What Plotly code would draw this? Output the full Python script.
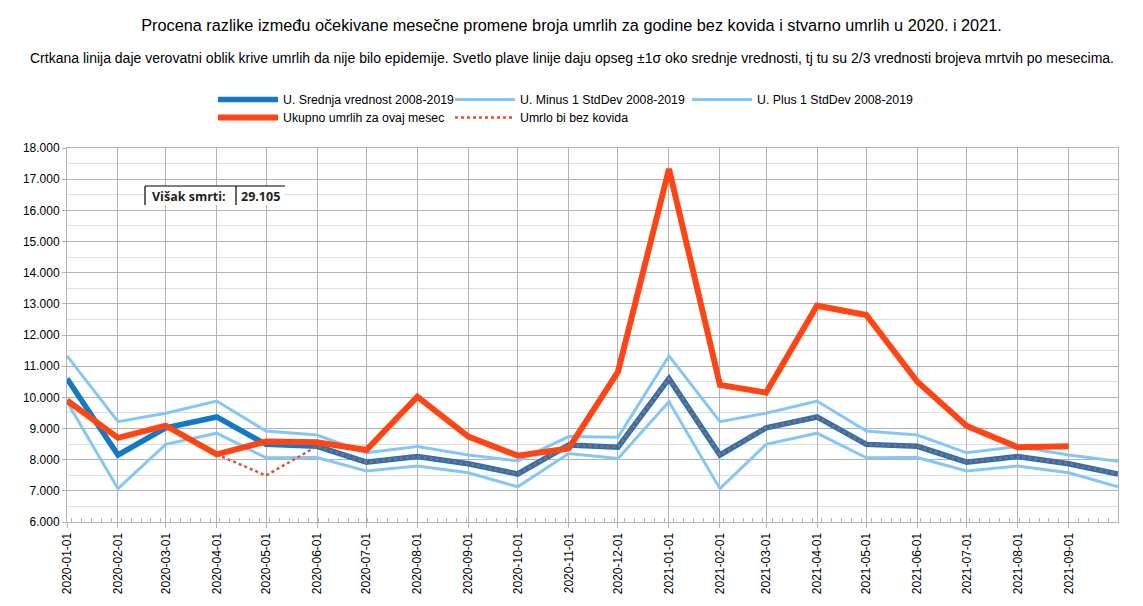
import plotly.graph_objects as go

# ---- data ----
months = ["2020-01-01", "2020-02-01", "2020-03-01", "2020-04-01", "2020-05-01", "2020-06-01",
          "2020-07-01", "2020-08-01", "2020-09-01", "2020-10-01", "2020-11-01", "2020-12-01",
          "2021-01-01", "2021-02-01", "2021-03-01", "2021-04-01", "2021-05-01", "2021-06-01",
          "2021-07-01", "2021-08-01", "2021-09-01", "2021-10-01"]

mean_2008_2019 = [10600, 8150, 9020, 9370, 8490, 8430, 7920, 8100, 7870, 7540, 8470, 8400,
                  10600, 8150, 9020, 9370, 8490, 8430, 7920, 8100, 7870, 7540]
minus_1sd = [9860, 7070, 8490, 8850, 8060, 8070, 7640, 7800, 7580, 7130, 8200, 8040,
             9860, 7070, 8490, 8850, 8060, 8070, 7640, 7800, 7580, 7130]
plus_1sd = [11330, 9220, 9490, 9880, 8920, 8790, 8220, 8420, 8150, 7960, 8740, 8720,
            11330, 9220, 9490, 9880, 8920, 8790, 8220, 8420, 8150, 7950]
actual = [9900, 8700, 9090, 8170, 8580, 8560, 8310, 10020, 8740, 8130, 8360, 10820,
          17330, 10400, 10150, 12940, 12640, 10500, 9080, 8400, 8430, None]
without_covid = [None, None, None, 8170, 7490, 8430, 7920, 8100, 7870, 7540, 8470, 8400,
                 10600, 8150, 9020, 9370, 8490, 8430, 7920, 8100, 7870, 7540]

tick_dates = months[:-1]

names = ["U. Srednja vrednost 2008-2019", "U. Minus 1 StdDev 2008-2019", "U. Plus 1 StdDev 2008-2019",
         "Ukupno umrlih za ovaj mesec", "Umrlo bi bez kovida"]

title_text = ("Procena razlike između očekivane mesečne promene broja umrlih za godine bez kovida "
              "i stvarno umrlih u 2020. i 2021.")
subtitle_text = ("Crtkana linija daje verovatni oblik krive umrlih da nije bilo epidemije. Svetlo plave linije "
                 "daju opseg ±1σ oko srednje vrednosti, tj tu su 2/3 vrednosti brojeva mrtvih po mesecima.")
excess_label = "Višak smrti:"
excess_value = "29.105"

# ---- styles ----
C_MEAN = "#1379c4"
C_SD = "#85c6f5"
C_ACT = "#ff4513"
C_DOT = "#e0522f"
FONT = "Liberation Sans, Arial, sans-serif"

W, H = 1143, 606
L, R, T, B = 67, 25, 148, 84
PW, PH = W - L - R, H - T - B


def px_x(x):
    return (x - L) / PW


def px_y(y):
    return (H - B - y) / PH


fig = go.Figure()
fig.add_trace(go.Scatter(x=months, y=mean_2008_2019, name=names[0], mode="lines",
                         line=dict(color=C_MEAN, width=5.5), legend="legend"))
fig.add_trace(go.Scatter(x=months, y=minus_1sd, name=names[1], mode="lines",
                         line=dict(color=C_SD, width=3), legend="legend"))
fig.add_trace(go.Scatter(x=months, y=plus_1sd, name=names[2], mode="lines",
                         line=dict(color=C_SD, width=3), legend="legend"))
fig.add_trace(go.Scatter(x=months, y=actual, name=names[3], mode="lines",
                         line=dict(color=C_ACT, width=6), legend="legend2"))
fig.add_trace(go.Scatter(x=months, y=without_covid, name=names[4], mode="lines",
                         line=dict(color=C_DOT, width=2.5, dash="dot"), legend="legend2"))

grid_major = "#b3b3b3"
grid_minor = "#dedede"

leg_common = dict(orientation="h", xanchor="left", yanchor="top",
                  entrywidth=162, entrywidthmode="pixels", font=dict(family=FONT, size=12.3),
                  bgcolor="rgba(0,0,0,0)", tracegroupgap=0, itemwidth=60)

fig.update_layout(
    width=W, height=H, autosize=False,
    margin=dict(l=L, r=R, t=T, b=B, pad=0, autoexpand=False),
    paper_bgcolor="white", plot_bgcolor="white",
    separators=",.",
    font=dict(family=FONT, size=12, color="#000000"),
    title=dict(text=title_text, x=0.5, xanchor="center", xref="container",
               y=1 - 25 / H, yref="container", yanchor="middle",
               font=dict(family=FONT, size=16.3, color="#000000")),
    legend=dict(x=px_x(213), y=px_y(85), **leg_common),
    legend2=dict(x=px_x(213), y=px_y(103), **leg_common),
    showlegend=True,
)

fig.update_xaxes(
    type="date", range=[months[0], months[-1]],
    tickmode="array", tickvals=tick_dates, ticktext=tick_dates,
    tickangle=-90, tickfont=dict(family=FONT, size=12, color="#000000"),
    showgrid=True, gridcolor=grid_major, gridwidth=1,
    showline=True, linecolor=grid_major, linewidth=1, mirror=True,
    ticks="outside", ticklen=5, tickcolor=grid_major,
    minor=dict(ticks="inside", ticklen=4, tickcolor=grid_major, dtick=6 * 86400000,
               showgrid=False),
    zeroline=False,
)
fig.update_yaxes(
    range=[6000, 18000], dtick=1000, tick0=6000, tickformat=",d",
    tickfont=dict(family=FONT, size=12, color="#000000"),
    showgrid=True, gridcolor=grid_major, gridwidth=1,
    minor=dict(dtick=500, showgrid=True, gridcolor=grid_minor, gridwidth=1),
    showline=True, linecolor=grid_major, linewidth=1, mirror=True,
    ticks="outside", ticklen=4, tickcolor=grid_major,
    zeroline=False,
)

# subtitle
fig.add_annotation(text=subtitle_text, xref="paper", yref="paper",
                   x=px_x(W / 2), y=px_y(58), xanchor="center", yanchor="middle",
                   showarrow=False, font=dict(family=FONT, size=14, color="#000000"))

# excess deaths box
box_top, box_bot = 186, 205
fig.add_shape(type="rect", xref="paper", yref="paper",
              x0=px_x(145), x1=px_x(285), y0=px_y(box_bot), y1=px_y(box_top),
              line=dict(width=0), fillcolor="white", layer="above")
for (x0, y0, x1, y1) in [(145, box_top, 285, box_top), (145, box_top, 145, box_bot),
                         (236, box_top, 236, box_bot)]:
    fig.add_shape(type="line", xref="paper", yref="paper",
                  x0=px_x(x0), x1=px_x(x1), y0=px_y(y0), y1=px_y(y1),
                  line=dict(color="#000000", width=1.2), layer="above")
fig.add_annotation(text="<b>" + excess_label + "</b>", xref="paper", yref="paper",
                   x=px_x(150), y=px_y(196), xanchor="left", yanchor="middle",
                   showarrow=False, font=dict(family="Open Sans, sans-serif", size=12.5, color="#222222"))
fig.add_annotation(text="<b>" + excess_value + "</b>", xref="paper", yref="paper",
                   x=px_x(239), y=px_y(196), xanchor="left", yanchor="middle",
                   showarrow=False, font=dict(family="Open Sans, sans-serif", size=12.5, color="#222222"))

fig.write_html("out.html", config={"displayModeBar": False},
               post_script="document.body.style.margin='0';")
